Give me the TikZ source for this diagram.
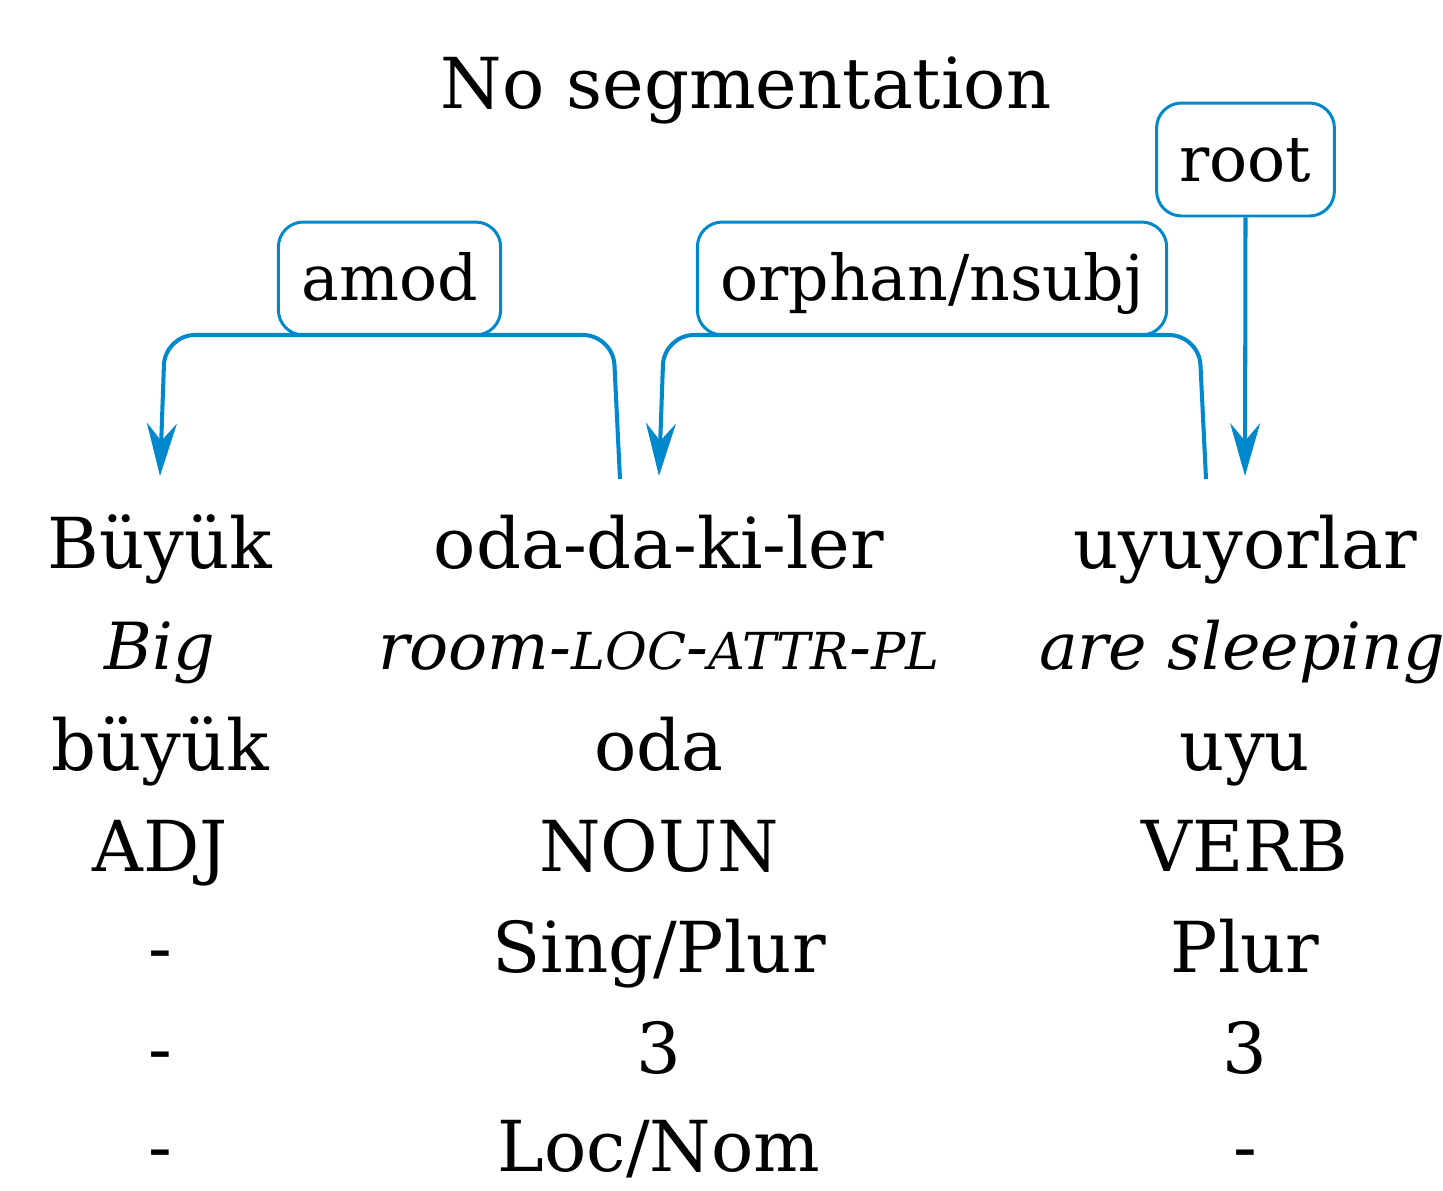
\documentclass[tikz,border=0pt]{standalone}
\usepackage{fontspec}
\setmainfont{DejaVu Serif}
\usetikzlibrary{arrows.meta}
\definecolor{depblue}{RGB}{0,136,204}
\newcommand\wordfont{\fontsize{40}{48}\selectfont}
\newcommand\glossfont{\fontsize{37}{44}\selectfont\itshape}
\newcommand\labelfont{\fontsize{36}{43}\selectfont}
\newcommand\titlefont{\fontsize{40}{48}\selectfont}
\newcommand\gsc[1]{{\fontsize{29}{35}\selectfont #1}}
\tikzset{
  word/.style={anchor=base,inner sep=0pt,font=\wordfont},
  gloss/.style={word,font=\glossfont},
  deplabel/.style={draw=depblue,line width=1.7pt,rounded corners=0.5cm,fill=white,anchor=base,
    inner xsep=0.46cm,inner ysep=0pt,text height=1.56cm,text depth=0.7cm,font=\labelfont},
  dep/.style={draw=depblue,line width=2.3pt,rounded corners=0.6cm,
    -{Stealth[length=30pt,width=17pt,inset=10pt]}},
}
\begin{document}
\begin{tikzpicture}[x=0.02cm,y=-0.02cm]
\useasboundingbox (0,0) rectangle (1443,1190);
\node[word,font=\titlefont] (title) at (746,108) {No segmentation};
% words
\node[word] (b1) at (160,568) {Büyük};
\node[gloss] (b2) at (160,669) {Big};
\node[word] (b3) at (160,770) {büyük};
\node[word] (b4) at (160,871) {ADJ};
\node[word] (b5) at (160,972) {-};
\node[word] (b6) at (160,1073) {-};
\node[word] (b7) at (160,1171) {-};
\node[word] (o1) at (659,568) {oda-da-ki-ler};
\node[gloss] (o2) at (659,669) {room-\gsc{LOC}-\gsc{ATTR}-\gsc{PL}};
\node[word] (o3) at (659,770) {oda};
\node[word] (o4) at (659,871) {NOUN};
\node[word] (o5) at (659,972) {Sing/Plur};
\node[word] (o6) at (659,1073) {3};
\node[word] (o7) at (659,1171) {Loc/Nom};
\node[word] (u1) at (1245,568) {uyuyorlar};
\node[gloss] (u2) at (1242,669) {are sleeping};
\node[word] (u3) at (1245,770) {uyu};
\node[word] (u4) at (1245,871) {VERB};
\node[word] (u5) at (1245,972) {Plur};
\node[word] (u6) at (1245,1073) {3};
\node[word] (u7) at (1245,1171) {-};
% arc ends
\coordinate (b0) at (160,476);
\coordinate (o0) at (659,476);
\coordinate (u0) at (1245,476);
\coordinate (oh) at (620,479);
\coordinate (uh) at (1206,479);
% relations
\node[deplabel] (amod) at (389.5,300) {amod};
\node[deplabel] (orphan) at (932,300) {orphan/nsubj};
\node[deplabel] (root) at (1245.5,181) {root};
\draw[dep] (oh) -- (613,335) -- (165,335) -- (b0);
\draw[dep] (uh) -- (1199,335) -- (664,335) -- (o0);
\draw[dep,rounded corners=0pt] (root.south) -- (u0);
\end{tikzpicture}
\end{document}
